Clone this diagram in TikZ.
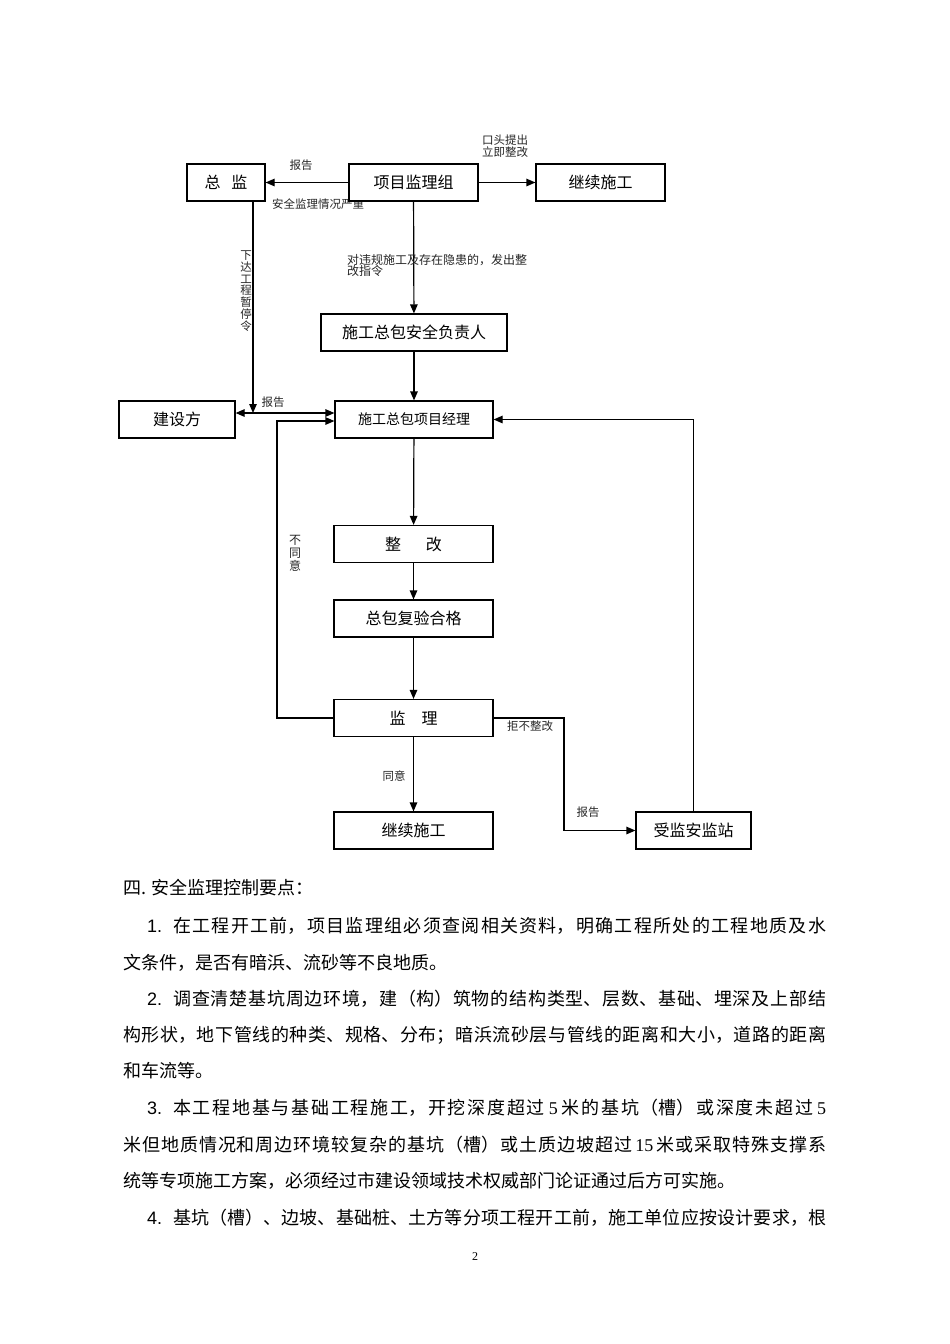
\documentclass[tikz,border=0pt]{standalone}
\usepackage{fontspec}
\setmainfont{Liberation Serif}
\setsansfont{Liberation Sans}
\newfontfamily\cjk{Noto Sans CJK SC}
\usetikzlibrary{arrows.meta}
\XeTeXlinebreaklocale "zh"
\XeTeXlinebreakskip=0pt plus 6pt
% one justified line of body text
\newcommand{\fullline}[2]{\parbox[b]{#1}{\parfillskip=0pt\relax #2}}

\begin{document}
\begin{tikzpicture}
[x=1pt, y=-1pt,
>={Triangle[length=9pt,width=7.5pt]},
block/.style    = {rectangle, draw, line width=1.2pt, fill=white, minimum height=37pt, inner sep=0pt, font=\cjk\fontsize{16}{18}\selectfont},
note/.style     = {inner sep=0pt, text=black!85, font=\cjk\fontsize{11.5}{12}\selectfont},
line/.style     = {draw, line width=1.2pt, ->},
textline/.style = {anchor=base west, inner sep=0pt, font=\cjk\fontsize{18}{20}\selectfont}
]

\fill[white] (0,0) rectangle (950,1344);
\useasboundingbox (0,0) rectangle (950,1344);

% labels that the boxes partly cover
\node [note] (lbl_serious) at (318,204) {安全监理情况严重};

% row 0
\node [block, minimum width=78pt]  (zongjian)   at (226,182.5) {总\hspace{11pt}监};
\node [block, minimum width=129pt] (jianlizu)   at (413.5,182.5) {项目监理组};
\node [block, minimum width=129pt] (jixu_top)   at (600.5,182.5) {继续施工};
% row 1
\node [block, minimum width=186pt] (anquan)     at (414,332.5) {施工总包安全负责人};
% row 2
\node [block, minimum width=116pt] (jianshe)    at (177,419.5) {建设方};
\node [block, minimum width=158pt, font=\cjk\fontsize{14}{16}\selectfont] (jingli) at (414,419.5) {施工总包项目经理};
% rows 3 - 6
\node [block, minimum width=159pt] (zhenggai)   at (413.5,544) {整\hspace{25pt}改};
\node [block, minimum width=159pt] (fuyan)      at (413.5,618.5) {总包复验合格};
\node [block, minimum width=159pt] (jianli)     at (413.5,718) {监\hspace{16pt}理};
\node [block, minimum width=159pt] (jixu_bot)   at (413.5,830.5) {继续施工};
\node [block, minimum width=115pt] (anjianzhan) at (693.5,830.5) {受监安监站};

\coordinate (stop)  at (253,413);
\coordinate (loopL) at (277,421);
\coordinate (bend)  at (564,780);

\begin{scope}[every path/.style=line]
\path (jianlizu) -- (zongjian);
\path (jianlizu) -- (jixu_top);
\path (zongjian.south -| stop) -- (stop);
\path (jianlizu) -- (anquan);
\path (anquan) -- (jingli);
\path [<->] (jianshe.east |- stop) -- (jingli.west |- stop);
\path (jianli.west) -| (loopL) -- (loopL -| jingli.west);
\path (anjianzhan.north) |- (jingli.east);
\path (jingli) -- (zhenggai);
\path (zhenggai) -- (fuyan);
\path (fuyan) -- (jianli);
\path (jianli) -- (jixu_bot);
\path (jianli.east) -- (jianli.east -| bend) |- (anjianzhan.west);
\end{scope}

% connector labels
\node [note] (lbl_report1) at (301,165) {报告};
\node [note, align=center] (lbl_oral) at (505,146) {口头提出\\立即整改};
\node [note, align=center, font=\cjk\fontsize{11.5}{11.9}\selectfont] (lbl_stop) at (246,291) {下\\达\\工\\程\\暂\\停\\令};
\node [note, align=left, anchor=north west, font=\cjk\fontsize{12}{11.5}\selectfont] (lbl_order) at (347,254) {对违规施工及存在隐患的，发出整\\改指令};
\node [note] (lbl_report2) at (273,402) {报告};
\node [note, align=center, font=\cjk\fontsize{12}{13}\selectfont] (lbl_disagree) at (295,553) {不\\同\\意};
\node [note] (lbl_agree)   at (394,776) {同意};
\node [note] (lbl_refuse)  at (530,726) {拒不整改};
\node [note] (lbl_report3) at (588,812) {报告};

% body text below the chart
\node [textline] (line0) at (123,894)  {四. 安全监理控制要点：};
\node [textline] (line1) at (147,932)  {\makebox[26pt][l]{\sffamily 1.}\fullline{653pt}{在工程开工前，项目监理组必须查阅相关资料，明确工程所处的工程地质及水}};
\node [textline] (line2) at (123,969)  {文条件，是否有暗浜、流砂等不良地质。};
\node [textline] (line3) at (147,1005) {\makebox[26pt][l]{\sffamily 2.}\fullline{653pt}{调查清楚基坑周边环境，建（构）筑物的结构类型、层数、基础、埋深及上部结}};
\node [textline] (line4) at (123,1041) {\fullline{703pt}{构形状，地下管线的种类、规格、分布；暗浜流砂层与管线的距离和大小，道路的距离}};
\node [textline] (line5) at (123,1077) {和车流等。};
\node [textline] (line6) at (147,1114) {\makebox[26pt][l]{\sffamily 3.}\fullline{653pt}{本工程地基与基础工程施工，开挖深度超过\hspace{4pt}{\rmfamily 5}\hspace{4pt}米的基坑（槽）或深度未超过\hspace{4pt}{\rmfamily 5}}};
\node [textline] (line7) at (123,1151) {\fullline{703pt}{米但地质情况和周边环境较复杂的基坑（槽）或土质边坡超过\hspace{3pt}{\rmfamily 15}\hspace{3pt}米或采取特殊支撑系}};
\node [textline] (line8) at (123,1187) {统等专项施工方案，必须经过市建设领域技术权威部门论证通过后方可实施。};
\node [textline] (line9) at (147,1224) {\makebox[26pt][l]{\sffamily 4.}\fullline{653pt}{基坑（槽）、边坡、基础桩、土方等分项工程开工前，施工单位应按设计要求，根}};

\node [inner sep=0pt, font=\rmfamily\fontsize{12}{14}\selectfont] (page_no) at (475,1257) {2};

\end{tikzpicture}
\end{document}
